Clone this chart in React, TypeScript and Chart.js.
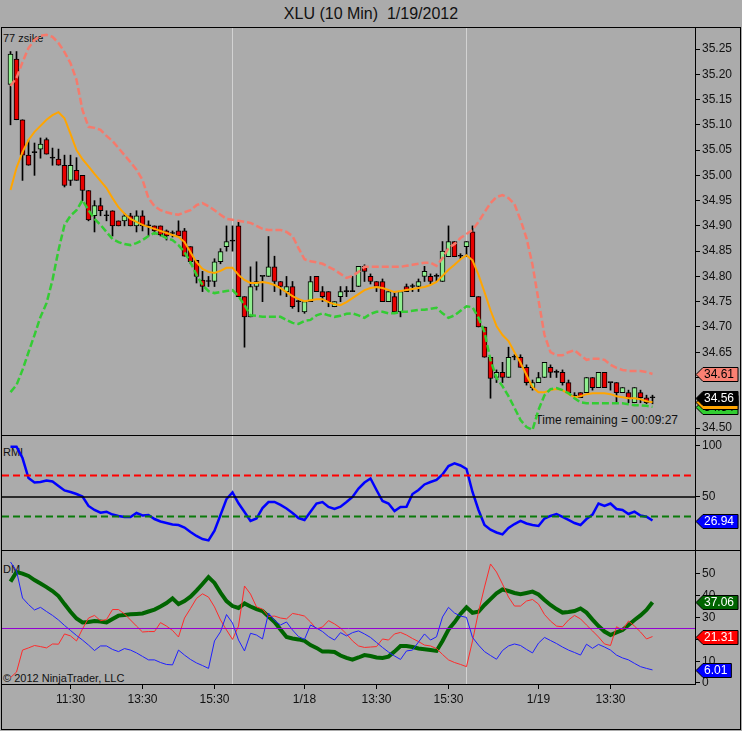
import React, { useEffect, useRef } from 'react';
import { Chart, registerables } from 'chart.js';

Chart.register(...registerables);

const FONT = '"Liberation Sans", Arial, Helvetica, sans-serif';
const BG = '#ababab';

// ---- x axis (10-minute bars, index based) ----
const xTickIdx = [10, 22, 34, 49, 61, 73, 88, 100];
const xTickLabels = ['11:30', '13:30', '15:30', '1/18', '13:30', '15:30', '1/19', '13:30'];
const sessionBreaks = [37, 76];
const X_MIN = -1.4167;
const X_MAX = 114.0833;

// ---- price bars ----
const opens = [
  35.18, 35.23, 35.11, 35.04, 35.045, 35.052, 35.071, 35.034, 35.032, 35.02,
  34.99, 35.01, 35.0, 34.97, 34.92, 34.94, 34.92, 34.93, 34.91, 34.91,
  34.92, 34.90, 34.92, 34.90, 34.90, 34.90, 34.89, 34.885, 34.89, 34.89,
  34.859, 34.832, 34.793, 34.79, 34.79, 34.829, 34.859, 34.87, 34.90, 34.76,
  34.72, 34.78, 34.80, 34.80, 34.819, 34.79, 34.77, 34.78, 34.75, 34.73,
  34.75, 34.80, 34.77, 34.77, 34.74, 34.76, 34.77, 34.77, 34.78, 34.82,
  34.80, 34.79, 34.79, 34.75, 34.76, 34.73, 34.78, 34.78, 34.78, 34.80,
  34.80, 34.80, 34.79, 34.839, 34.869, 34.84, 34.859, 34.888, 34.76, 34.70,
  34.64, 34.60, 34.61, 34.60, 34.64, 34.64, 34.62, 34.58, 34.59, 34.60,
  34.62, 34.61, 34.61, 34.59, 34.563, 34.57, 34.57, 34.60, 34.58, 34.61,
  34.59, 34.59, 34.57, 34.57, 34.55, 34.57, 34.56, 34.56,
];
const highs = [
  35.245, 35.245, 35.11, 35.07, 35.064, 35.074, 35.074, 35.054, 35.052, 35.04,
  35.04, 35.035, 35.0, 34.97, 34.95, 34.955, 34.93, 34.93, 34.91, 34.925,
  34.925, 34.93, 34.93, 34.91, 34.90, 34.90, 34.892, 34.89, 34.91, 34.895,
  34.859, 34.832, 34.81, 34.80, 34.835, 34.855, 34.90, 34.90, 34.908, 34.76,
  34.819, 34.829, 34.80, 34.879, 34.84, 34.79, 34.80, 34.79, 34.755, 34.75,
  34.80, 34.80, 34.78, 34.77, 34.75, 34.78, 34.78, 34.80, 34.82, 34.823,
  34.805, 34.79, 34.795, 34.77, 34.77, 34.77, 34.785, 34.785, 34.795, 34.82,
  34.805, 34.805, 34.869, 34.90, 34.869, 34.845, 34.869, 34.90, 34.76, 34.70,
  34.64, 34.615, 34.63, 34.66, 34.645, 34.645, 34.625, 34.595, 34.61, 34.63,
  34.625, 34.615, 34.615, 34.595, 34.57, 34.57, 34.60, 34.60, 34.61, 34.61,
  34.59, 34.59, 34.58, 34.575, 34.58, 34.575, 34.565, 34.565,
];
const lows = [
  35.10, 35.11, 34.99, 35.02, 35.00, 35.034, 35.042, 35.02, 35.02, 34.977,
  34.98, 34.99, 34.95, 34.91, 34.888, 34.92, 34.91, 34.88, 34.90, 34.90,
  34.90, 34.888, 34.89, 34.88, 34.884, 34.88, 34.872, 34.878, 34.88, 34.84,
  34.825, 34.787, 34.77, 34.78, 34.78, 34.825, 34.85, 34.85, 34.76, 34.66,
  34.72, 34.773, 34.75, 34.80, 34.77, 34.763, 34.76, 34.737, 34.73, 34.727,
  34.75, 34.77, 34.75, 34.74, 34.74, 34.75, 34.76, 34.77, 34.78, 34.79,
  34.785, 34.77, 34.75, 34.75, 34.73, 34.72, 34.77, 34.77, 34.77, 34.79,
  34.785, 34.79, 34.79, 34.839, 34.839, 34.835, 34.839, 34.76, 34.70, 34.64,
  34.559, 34.59, 34.59, 34.60, 34.635, 34.62, 34.585, 34.575, 34.59, 34.60,
  34.60, 34.60, 34.585, 34.57, 34.563, 34.56, 34.57, 34.575, 34.58, 34.58,
  34.575, 34.55, 34.57, 34.55, 34.55, 34.55, 34.548, 34.548,
];
const closes = [
  35.24, 35.11, 35.04, 35.02, 35.045, 35.062, 35.042, 35.034, 35.02, 34.98,
  35.02, 34.99, 34.97, 34.912, 34.94, 34.93, 34.92, 34.90, 34.90, 34.92,
  34.90, 34.92, 34.90, 34.90, 34.89, 34.882, 34.88, 34.885, 34.88, 34.84,
  34.829, 34.80, 34.78, 34.79, 34.829, 34.849, 34.869, 34.87, 34.76, 34.72,
  34.78, 34.79, 34.80, 34.819, 34.79, 34.78, 34.78, 34.74, 34.75, 34.75,
  34.79, 34.77, 34.76, 34.75, 34.75, 34.77, 34.77, 34.77, 34.82, 34.81,
  34.79, 34.78, 34.75, 34.77, 34.73, 34.77, 34.77, 34.78, 34.79, 34.81,
  34.79, 34.80, 34.85, 34.869, 34.839, 34.84, 34.869, 34.76, 34.70, 34.64,
  34.598, 34.61, 34.60, 34.64, 34.64, 34.62, 34.59, 34.59, 34.60, 34.63,
  34.61, 34.61, 34.59, 34.57, 34.563, 34.56, 34.60, 34.58, 34.61, 34.58,
  34.59, 34.57, 34.58, 34.56, 34.58, 34.56, 34.55, 34.56,
];

// ---- envelope indicator ----
const upperBand = [
  35.177, 35.193, 35.224, 35.252, 35.268, 35.276, 35.278, 35.274, 35.262, 35.244,
  35.222, 35.189, 35.129, 35.096, 35.094, 35.090, 35.078, 35.068, 35.054, 35.040,
  35.026, 35.011, 34.991, 34.955, 34.939, 34.931, 34.927, 34.924, 34.922, 34.927,
  34.931, 34.941, 34.945, 34.939, 34.931, 34.922, 34.914, 34.912, 34.910, 34.908,
  34.906, 34.900, 34.894, 34.892, 34.892, 34.892, 34.888, 34.880, 34.856, 34.834,
  34.830, 34.828, 34.825, 34.819, 34.813, 34.805, 34.797, 34.801, 34.809, 34.819,
  34.819, 34.819, 34.819, 34.819, 34.819, 34.819, 34.821, 34.823, 34.825, 34.827,
  34.827, 34.821, 34.836, 34.856, 34.864, 34.876, 34.884, 34.892, 34.908, 34.927,
  34.945, 34.957, 34.961, 34.955, 34.943, 34.912, 34.876, 34.823, 34.753, 34.684,
  34.650, 34.644, 34.644, 34.650, 34.654, 34.644, 34.635, 34.637, 34.637, 34.635,
  34.625, 34.619, 34.615, 34.613, 34.613, 34.613, 34.611, 34.607,
];
const lowerBand = [
  34.571, 34.585, 34.615, 34.650, 34.684, 34.720, 34.747, 34.793, 34.852, 34.902,
  34.920, 34.931, 34.951, 34.931, 34.914, 34.902, 34.888, 34.874, 34.868, 34.864,
  34.862, 34.866, 34.872, 34.880, 34.886, 34.882, 34.876, 34.872, 34.862, 34.848,
  34.828, 34.803, 34.783, 34.771, 34.767, 34.769, 34.771, 34.773, 34.761, 34.743,
  34.723, 34.722, 34.720, 34.720, 34.720, 34.720, 34.714, 34.708, 34.706, 34.712,
  34.714, 34.723, 34.727, 34.723, 34.720, 34.722, 34.726, 34.727, 34.723, 34.718,
  34.726, 34.730, 34.730, 34.727, 34.727, 34.730, 34.730, 34.732, 34.734, 34.734,
  34.736, 34.738, 34.727, 34.718, 34.723, 34.732, 34.741, 34.739, 34.718, 34.690,
  34.635, 34.599, 34.583, 34.563, 34.540, 34.516, 34.502, 34.496, 34.536, 34.565,
  34.577, 34.579, 34.575, 34.569, 34.559, 34.551, 34.549, 34.549, 34.549, 34.549,
  34.549, 34.549, 34.549, 34.547, 34.545, 34.545, 34.544, 34.542,
];
const midLine = [
  34.971, 35.015, 35.046, 35.070, 35.086, 35.098, 35.110, 35.119, 35.125, 35.113,
  35.082, 35.050, 35.032, 35.018, 35.003, 34.989, 34.975, 34.955, 34.937, 34.924,
  34.914, 34.908, 34.902, 34.898, 34.894, 34.890, 34.886, 34.882, 34.878, 34.868,
  34.848, 34.828, 34.815, 34.809, 34.807, 34.811, 34.817, 34.817, 34.803, 34.793,
  34.787, 34.787, 34.789, 34.787, 34.783, 34.777, 34.769, 34.761, 34.755, 34.751,
  34.753, 34.755, 34.755, 34.749, 34.745, 34.743, 34.749, 34.757, 34.765, 34.773,
  34.777, 34.779, 34.777, 34.773, 34.769, 34.771, 34.773, 34.775, 34.777, 34.779,
  34.783, 34.789, 34.801, 34.813, 34.823, 34.834, 34.842, 34.832, 34.803, 34.769,
  34.733, 34.702, 34.684, 34.672, 34.650, 34.629, 34.605, 34.581, 34.571, 34.571,
  34.575, 34.577, 34.575, 34.567, 34.561, 34.563, 34.567, 34.569, 34.569, 34.569,
  34.567, 34.563, 34.561, 34.559, 34.559, 34.557, 34.553, 34.551,
];

// ---- RMI ----
const rmi = [
  99.3, 99.3, 88.2, 68.6, 64.2, 64.7, 66.2, 65.2, 60.8, 56.4,
  54.9, 52.9, 50.5, 41.2, 37.3, 34.6, 35.6, 32.8, 31.4, 30.4,
  30.4, 34.3, 31.9, 32.4, 28.4, 26.0, 24.5, 23.0, 22.5, 20.1,
  15.7, 11.8, 8.8, 7.5, 17.0, 32.4, 48.0, 54.6, 43.8, 35.3,
  26.5, 28.9, 39.2, 45.1, 45.1, 42.2, 38.7, 34.3, 29.4, 27.5,
  35.6, 43.6, 45.1, 40.2, 38.2, 40.5, 45.1, 50.0, 58.3, 64.2,
  68.1, 56.9, 46.1, 43.6, 36.3, 40.2, 40.5, 52.9, 56.9, 62.3,
  64.7, 66.7, 72.1, 80.4, 83.0, 80.9, 77.5, 54.9, 37.3, 22.5,
  17.9, 15.2, 13.4, 19.6, 23.5, 26.5, 24.0, 22.5, 21.6, 28.9,
  31.4, 33.3, 30.4, 27.5, 24.5, 22.5, 28.4, 32.8, 43.6, 41.2,
  43.6, 38.2, 37.3, 33.3, 35.6, 31.9, 30.7, 26.94,
];
const rmiUpper = 71;
const rmiMid = 50;
const rmiLower = 31;

// ---- DM ----
const adx = [
  46.5, 50.9, 50.2, 49.1, 47.2, 45.6, 44.0, 42.2, 39.9, 36.2,
  32.7, 29.6, 27.8, 28.0, 28.4, 28.2, 27.8, 29.4, 30.9, 31.2,
  31.5, 31.7, 31.9, 32.8, 33.7, 35.1, 36.7, 38.8, 36.2, 37.6,
  39.6, 42.4, 45.4, 48.6, 45.9, 41.5, 37.6, 35.3, 34.4, 36.5,
  35.1, 33.9, 33.0, 30.5, 28.0, 24.5, 21.1, 20.4, 20.0, 19.3,
  17.4, 16.1, 14.4, 14.4, 14.2, 12.6, 11.5, 10.7, 11.7, 12.8,
  12.4, 11.7, 11.5, 12.1, 14.4, 17.0, 17.0, 16.5, 15.8, 15.5,
  15.1, 14.7, 19.3, 24.5, 27.8, 31.7, 34.7, 32.2, 32.7, 35.8,
  38.5, 41.1, 42.9, 42.2, 41.3, 40.7, 41.3, 41.9, 40.6, 38.1,
  35.8, 33.9, 32.3, 32.6, 33.0, 34.2, 32.3, 29.1, 26.1, 23.6,
  22.0, 23.2, 24.3, 26.6, 28.9, 31.0, 33.5, 37.06,
];
const diPlus = [
  2.5, 5.0, 15.1, 16.1, 17.2, 16.7, 16.1, 17.9, 17.8, 22.5,
  21.6, 19.3, 24.8, 29.8, 31.0, 28.6, 29.1, 33.7, 33.7, 31.7,
  28.9, 26.1, 23.4, 23.6, 23.6, 27.7, 26.1, 24.1, 21.1, 29.8,
  34.2, 38.8, 40.9, 39.4, 34.9, 28.9, 24.3, 20.0, 26.1, 44.5,
  40.8, 34.9, 33.9, 30.5, 30.7, 29.8, 29.4, 31.9, 31.4, 30.7,
  28.0, 24.8, 25.7, 28.6, 27.1, 25.2, 22.5, 19.3, 17.0, 16.3,
  16.5, 16.7, 20.2, 19.7, 22.5, 23.2, 22.0, 20.4, 19.0, 17.4,
  17.0, 15.8, 13.1, 10.6, 9.4, 8.5, 7.5, 19.3, 32.6, 44.0,
  54.6, 50.9, 45.4, 39.4, 35.3, 35.3, 37.6, 38.3, 36.2, 31.4,
  28.4, 26.1, 25.8, 28.9, 31.0, 29.4, 26.6, 23.9, 21.1, 17.9,
  17.2, 25.8, 24.3, 28.4, 26.1, 23.4, 20.2, 21.31,
];
const diMinus = [
  55.5, 51.4, 39.0, 36.0, 33.5, 34.7, 32.8, 31.0, 28.9, 26.4,
  24.1, 21.8, 19.7, 17.4, 14.9, 17.0, 17.0, 15.4, 14.4, 15.8,
  15.1, 13.8, 12.2, 10.6, 10.6, 9.4, 8.5, 8.3, 15.1, 12.8,
  10.8, 9.2, 8.0, 6.7, 19.3, 23.5, 31.4, 27.5, 19.7, 14.7,
  22.8, 22.0, 20.2, 32.1, 28.7, 26.6, 28.0, 24.3, 21.3, 20.0,
  26.6, 25.2, 23.6, 21.3, 19.7, 23.1, 21.6, 23.1, 23.9, 22.5,
  20.9, 18.6, 16.3, 14.2, 12.4, 10.8, 14.7, 15.1, 18.8, 22.5,
  19.7, 21.2, 30.3, 34.7, 32.1, 30.7, 30.1, 20.9, 17.4, 14.4,
  12.6, 10.9, 14.9, 17.0, 17.9, 17.2, 15.4, 13.8, 18.3, 20.9,
  19.5, 18.1, 16.5, 15.1, 14.0, 12.8, 17.8, 15.9, 17.7, 16.5,
  15.1, 12.8, 11.5, 10.6, 9.0, 7.5, 6.7, 6.01,
];
const dmLevel = 25;

// ---- axis ticks ----
const priceTicks = [34.5, 34.55, 34.6, 34.65, 34.7, 34.75, 34.8, 34.85, 34.9, 34.95, 35.0, 35.05, 35.1, 35.15, 35.2, 35.25];
const rmiTicks = [50, 100];
const dmTicks = [0, 10, 20, 30, 40, 50];

const idx = opens.map((_, i) => i);
const last = idx.length - 1;

type Tag = { value: number; bg: string; fg: string };

const sessionPlugin = {
  id: 'sessionBreaks',
  beforeDatasetsDraw(chart: any) {
    const { ctx, chartArea, scales } = chart;
    ctx.save();
    ctx.strokeStyle = '#d2d2d2';
    ctx.lineWidth = 1;
    for (const b of sessionBreaks) {
      const x = Math.floor(scales.x.getPixelForValue(b)) + 0.5;
      ctx.beginPath();
      ctx.moveTo(x, chartArea.top);
      ctx.lineTo(x, chartArea.bottom);
      ctx.stroke();
    }
    ctx.restore();
  },
};

function tagPlugin(tags: Tag[]) {
  return {
    id: 'valueTags',
    afterDraw(chart: any) {
      const { ctx, chartArea, scales } = chart;
      ctx.save();
      ctx.font = `12px ${FONT}`;
      ctx.textBaseline = 'middle';
      ctx.textAlign = 'left';
      for (const t of tags) {
        const y = Math.round(scales.y.getPixelForValue(t.value)) + 0.5;
        const x0 = chartArea.right + 1;
        const txt = t.value.toFixed(2);
        const w = ctx.measureText(txt).width + 12;
        ctx.beginPath();
        ctx.moveTo(x0, y);
        ctx.lineTo(x0 + 7, y - 7);
        ctx.lineTo(x0 + w, y - 7);
        ctx.lineTo(x0 + w, y + 7);
        ctx.lineTo(x0 + 7, y + 7);
        ctx.closePath();
        ctx.fillStyle = t.bg;
        ctx.fill();
        ctx.strokeStyle = '#000';
        ctx.lineWidth = 1;
        ctx.stroke();
        ctx.fillStyle = t.fg;
        ctx.fillText(txt, x0 + 8, y + 0.5);
      }
      ctx.restore();
    },
  };
}

function rightAxis(min: number, max: number, ticks: number[], decimals: number) {
  return {
    type: 'linear',
    position: 'right',
    min,
    max,
    bounds: 'data',
    beginAtZero: false,
    afterBuildTicks: (s: any) => {
      s.ticks = ticks.map((v) => ({ value: v }));
    },
    afterFit: (s: any) => {
      s.width = 46;
      s.paddingTop = 0;
      s.paddingBottom = 0;
    },
    grid: { drawOnChartArea: false, drawTicks: true, tickLength: 5, color: '#000', lineWidth: 1 },
    border: { display: true, color: '#000', width: 1 },
    ticks: {
      color: '#111',
      font: { family: FONT, size: 12 },
      padding: 2,
      autoSkip: false,
      callback: (v: any) => (decimals ? Number(v).toFixed(decimals) : String(Math.round(Number(v)))),
    },
  };
}

const hiddenX = { type: 'linear', min: X_MIN, max: X_MAX, display: false, offset: false, bounds: 'data' };

const bottomX = {
  type: 'linear',
  min: X_MIN,
  max: X_MAX,
  offset: false,
  bounds: 'data',
  afterBuildTicks: (s: any) => {
    s.ticks = xTickIdx.map((v) => ({ value: v }));
  },
  afterFit: (s: any) => {
    s.height = 45;
    s.paddingLeft = 0;
    s.paddingRight = 0;
  },
  grid: { drawOnChartArea: false, drawTicks: true, tickLength: 5, color: '#000', offset: false },
  border: { display: true, color: '#000', width: 1 },
  ticks: {
    color: '#111',
    font: { family: FONT, size: 12 },
    padding: 3,
    autoSkip: false,
    maxRotation: 0,
    callback: (v: any) => {
      const k = xTickIdx.indexOf(Number(v));
      return k >= 0 ? xTickLabels[k] : '';
    },
  },
};

const baseOptions = {
  responsive: false,
  animation: false,
  events: [],
  layout: { padding: { left: 2, right: 0, top: 0, bottom: 0 } },
  plugins: { legend: { display: false }, tooltip: { enabled: false } },
};

const series = (arr: number[]) => idx.map((i) => ({ x: i, y: arr[i] }));
const flat = (v: number) => [
  { x: X_MIN, y: v },
  { x: X_MAX, y: v },
];

export default function App() {
  const priceRef = useRef<HTMLCanvasElement>(null);
  const rmiRef = useRef<HTMLCanvasElement>(null);
  const dmRef = useRef<HTMLCanvasElement>(null);

  useEffect(() => {
    const charts: Chart[] = [];

    const bodyColors = idx.map((i) =>
      closes[i] > opens[i] ? '#90ee90' : closes[i] < opens[i] ? '#e80000' : '#000000'
    );

    charts.push(
      new Chart(priceRef.current as HTMLCanvasElement, {
        type: 'bar',
        data: {
          datasets: [
            {
              type: 'line',
              label: 'Upper',
              data: series(upperBand),
              borderColor: '#f57a6c',
              borderWidth: 2.5,
              borderDash: [7, 3],
              pointRadius: 0,
              order: 1,
            },
            {
              type: 'line',
              label: 'Lower',
              data: series(lowerBand),
              borderColor: '#33cc33',
              borderWidth: 2.5,
              borderDash: [7, 3],
              pointRadius: 0,
              order: 1,
            },
            {
              type: 'line',
              label: 'Middle',
              data: series(midLine),
              borderColor: '#ffa500',
              borderWidth: 2,
              pointRadius: 0,
              order: 1,
            },
            {
              type: 'bar',
              label: 'Wick',
              data: idx.map((i) => ({ x: i, y: [lows[i], highs[i]] })),
              backgroundColor: '#000',
              barThickness: 1,
              grouped: false,
              order: 3,
            },
            {
              type: 'bar',
              label: 'Body',
              data: idx.map((i) => ({ x: i, y: [opens[i], closes[i]] })),
              backgroundColor: bodyColors,
              borderColor: '#000',
              borderWidth: 1,
              borderSkipped: false,
              barThickness: 5,
              minBarLength: 1,
              grouped: false,
              order: 2,
            },
          ],
        } as any,
        options: {
          ...baseOptions,
          scales: { x: hiddenX, y: rightAxis(34.4862, 35.2916, priceTicks, 2) },
        } as any,
        plugins: [
          sessionPlugin,
          tagPlugin([
            { value: upperBand[last], bg: '#fa8072', fg: '#000' },
            { value: lowerBand[last], bg: '#32cd32', fg: '#000' },
            { value: midLine[last], bg: '#ffa500', fg: '#000' },
            { value: closes[last], bg: '#000', fg: '#fff' },
          ]),
        ],
      })
    );

    charts.push(
      new Chart(rmiRef.current as HTMLCanvasElement, {
        type: 'line',
        data: {
          datasets: [
            { label: 'OB', data: flat(rmiUpper), borderColor: '#ff0000', borderWidth: 2, borderDash: [7, 4], pointRadius: 0 },
            { label: 'Mid', data: flat(rmiMid), borderColor: '#000', borderWidth: 1.3, pointRadius: 0 },
            { label: 'OS', data: flat(rmiLower), borderColor: '#0a7a0a', borderWidth: 2, borderDash: [7, 4], pointRadius: 0 },
            { label: 'RMI', data: series(rmi), borderColor: '#0000ff', borderWidth: 2.5, pointRadius: 0 },
          ],
        } as any,
        options: {
          ...baseOptions,
          scales: { x: hiddenX, y: rightAxis(-1.96, 109.8, rmiTicks, 0) },
        } as any,
        plugins: [sessionPlugin, tagPlugin([{ value: rmi[last], bg: '#0000ff', fg: '#fff' }])],
      })
    );

    charts.push(
      new Chart(dmRef.current as HTMLCanvasElement, {
        type: 'line',
        data: {
          datasets: [
            { label: 'Level', data: flat(dmLevel), borderColor: '#9400d3', borderWidth: 1, pointRadius: 0 },
            { label: 'DI-', data: series(diMinus), borderColor: '#1f1fff', borderWidth: 1, pointRadius: 0 },
            { label: 'DI+', data: series(diPlus), borderColor: '#ff2a2a', borderWidth: 1, pointRadius: 0 },
            { label: 'ADX', data: series(adx), borderColor: '#006400', borderWidth: 4, pointRadius: 0 },
          ],
        } as any,
        options: {
          ...baseOptions,
          scales: { x: bottomX, y: rightAxis(-0.46, 60.55, dmTicks, 0) },
        } as any,
        plugins: [
          sessionPlugin,
          tagPlugin([
            { value: adx[last], bg: '#006400', fg: '#fff' },
            { value: diPlus[last], bg: '#ff0000', fg: '#fff' },
            { value: diMinus[last], bg: '#0000ff', fg: '#fff' },
          ]),
        ],
      })
    );

    return () => charts.forEach((c) => c.destroy());
  }, []);

  const abs = (s: React.CSSProperties): React.CSSProperties => ({ position: 'absolute', ...s });
  const line = (left: number, top: number, width: number, height: number) => (
    <div style={abs({ left, top, width, height, background: '#000' })} />
  );

  return (
    <div
      style={abs({
        left: 0,
        top: 0,
        width: 742,
        height: 731,
        background: BG,
        overflow: 'hidden',
        fontFamily: FONT,
        color: '#111',
      })}
    >
      <div style={abs({ left: 0, top: 5, width: 742, textAlign: 'center', fontSize: 16, lineHeight: '18px', whiteSpace: 'pre' })}>
        {'XLU (10 Min)  1/19/2012'}
      </div>
      <div style={abs({ left: 3, top: 32, fontSize: 11, lineHeight: '13px' })}>77 zsike</div>
      <div style={abs({ left: 3, top: 446, fontSize: 11, lineHeight: '13px' })}>RMI</div>
      <div style={abs({ left: 3, top: 563, fontSize: 11, lineHeight: '13px' })}>DM</div>
      <div style={abs({ left: 3, top: 672, fontSize: 11, lineHeight: '13px' })}>© 2012 NinjaTrader, LLC</div>
      <div style={abs({ right: 64, top: 413, fontSize: 12, lineHeight: '14px', whiteSpace: 'pre' })}>
        Time remaining = 00:09:27
      </div>

      <canvas ref={priceRef} width={741} height={407} style={abs({ left: 0, top: 28, width: 741, height: 407 })} />
      <canvas ref={rmiRef} width={741} height={114} style={abs({ left: 0, top: 436, width: 741, height: 114 })} />
      <canvas ref={dmRef} width={741} height={178} style={abs({ left: 0, top: 551, width: 741, height: 178 })} />

      {line(1, 27, 740, 1)}
      {line(1, 729, 740, 1)}
      {line(1, 27, 1, 703)}
      {line(740, 27, 1, 703)}
      {line(1, 435, 740, 1)}
      {line(1, 550, 740, 1)}
    </div>
  );
}
